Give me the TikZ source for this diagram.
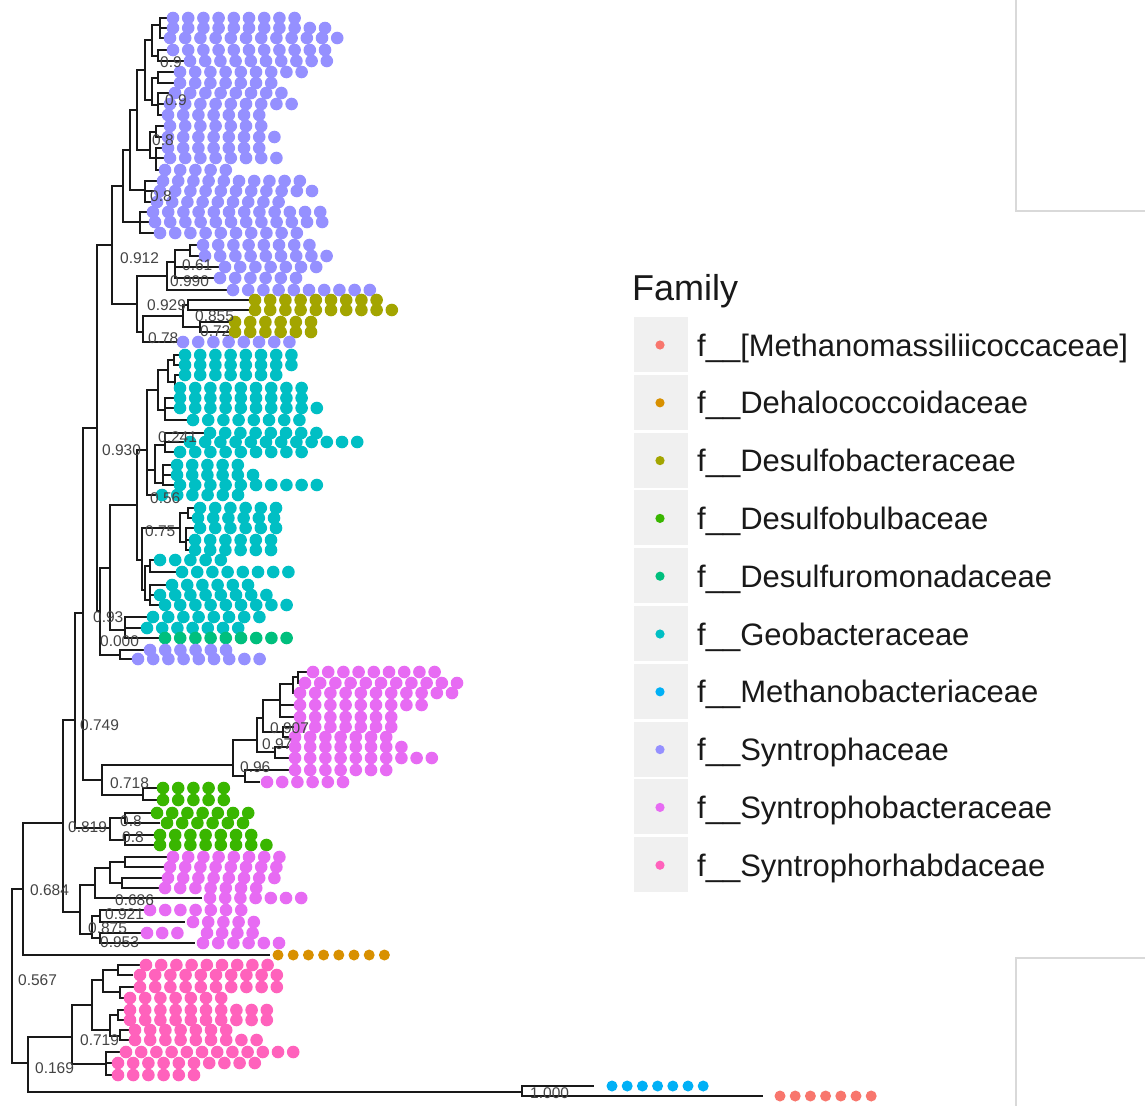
\documentclass[tikz,border=0pt]{standalone}
\usepackage{fontspec}
\setmainfont{Liberation Sans}
% family colours (default hue palette)
\definecolor{cMms}{HTML}{F8766D}
\definecolor{cDeh}{HTML}{D89000}
\definecolor{cDsb}{HTML}{A3A500}
\definecolor{cDbu}{HTML}{39B600}
\definecolor{cDfm}{HTML}{00BF7D}
\definecolor{cGeo}{HTML}{00BFC4}
\definecolor{cMba}{HTML}{00B0F6}
\definecolor{cSyn}{HTML}{9590FF}
\definecolor{cSpb}{HTML}{E76BF3}
\definecolor{cSph}{HTML}{FF62BC}
\definecolor{keybg}{HTML}{F0F0F0}
\definecolor{labgray}{HTML}{444444}
\definecolor{panelline}{HTML}{D9D9D9}
\begin{document}
\begin{tikzpicture}[x=1pt,y=-1pt,
  branch/.style={line width=1.4pt,draw=black!90},
  support/.style={anchor=west,inner sep=0pt,text=labgray,font=\fontsize{15.5}{17}\selectfont},
  legtext/.style={anchor=base west,inner sep=0pt,text=black!90,font=\fontsize{31}{34}\selectfont}]
\useasboundingbox[fill=white] (0,0) rectangle (1145,1106);

% leftover panel borders
\draw[panelline,line width=1.3pt] (1016,0) -- (1016,211) -- (1145,211);
\draw[panelline,line width=1.3pt] (1145,958) -- (1016,958) -- (1016,1106);

% ---------------- tree: parent x / parent y / child x / child y ----------------
\foreach \a/\b/\c/\d in {
 12/977/23/889, 12/977/28/1063, 28/1063/72/1037, 28/1063/522/1092,
 522/1092/594/1086, 522/1092/763/1096, 23/889/270/955, 23/889/63/823,
 72/1037/92/1005, 72/1037/106/1064, 92/1005/103/980, 92/1005/110/1030,
 103/980/118/970, 118/970/140/965, 118/970/133/975, 103/980/120/992,
 120/992/134/987, 120/992/124/998, 110/1030/118/1015, 118/1015/124/1010,
 118/1015/124/1020, 110/1030/120/1036, 120/1036/129/1030, 120/1036/129/1040,
 106/1064/120/1052, 106/1064/112/1063, 106/1064/112/1075,
 63/823/75/720, 63/823/80/912, 80/912/95/885, 80/912/92/934,
 95/885/110/868, 95/885/202/898, 110/868/125/862, 110/868/122/883,
 125/862/167/857, 125/862/164/867, 122/883/162/878, 122/883/159/888,
 92/934/100/916, 92/934/100/938, 100/916/144/910, 100/916/185/922,
 100/938/141/933, 100/938/195/943,
 75/720/83/613, 75/720/110/828, 83/613/97/428, 83/613/102/780,
 102/780/233/765, 102/780/143/795, 143/795/157/788, 143/795/157/800,
 110/828/125/818, 110/828/125/840, 125/818/151/813, 125/818/160/823,
 125/840/154/835, 125/840/154/845,
 233/765/257/740, 233/765/245/776, 245/776/290/770, 245/776/260/782,
 257/740/263/718, 257/740/275/752, 275/752/290/747, 275/752/290/758,
 263/718/280/700, 263/718/283/732, 283/732/295/727, 283/732/290/737,
 280/700/293/684, 280/700/295/705, 280/700/295/717, 293/684/298/677,
 298/677/307/672, 298/677/300/683, 293/684/295/693,
 97/428/112/245, 97/428/100/611, 112/245/123/186, 112/245/137/304,
 123/186/130/150, 123/186/140/222, 140/222/148/212, 140/222/149/222,
 140/222/154/233, 130/150/137/110, 130/150/145/190, 145/190/157/181,
 145/190/154/191, 145/190/151/202, 137/110/145/70, 137/110/150/150,
 150/150/156/132, 150/150/156/158, 156/132/164/126, 156/132/162/137,
 156/158/162/148, 156/158/164/158, 156/158/159/170, 145/70/152/40,
 145/70/152/100, 152/100/158/78, 152/100/158/105, 158/78/174/72,
 158/78/174/83, 158/105/169/93, 158/105/164/104, 158/105/162/115,
 152/40/160/25, 152/40/158/56, 158/56/167/50, 158/56/184/61,
 160/25/167/18, 160/25/167/28, 160/25/164/38,
 137/304/167/276, 137/304/143/332, 167/276/175/262, 167/276/227/290,
 175/262/190/250, 190/250/197/245, 190/250/199/256, 175/262/219/267,
 175/262/214/278, 143/332/183/316, 143/332/177/342, 183/316/188/305,
 183/316/200/327, 188/305/249/300, 188/305/249/310, 200/327/229/322,
 200/327/229/332,
 100/611/110/568, 100/611/120/655, 120/655/144/650, 120/655/132/659,
 110/568/137/505, 110/568/125/630, 125/630/147/617, 125/630/141/628,
 125/630/159/638, 137/505/147/450, 137/505/142/560, 147/450/158/390,
 147/450/155/470, 147/450/156/495, 158/390/168/370, 158/390/165/410,
 168/370/174/360, 168/370/175/382, 174/360/179/355, 174/360/179/365,
 175/382/179/375, 175/382/176/388, 165/410/174/398, 165/410/174/408,
 165/410/187/420, 155/470/165/445, 155/470/163/483, 165/445/204/433,
 165/445/184/442, 165/445/174/452, 163/483/171/465, 163/483/171/475,
 163/483/174/485, 142/560/180/528, 142/560/145/590, 180/528/188/513,
 180/528/186/542, 188/513/194/508, 188/513/192/518, 186/542/194/528,
 186/542/189/540, 186/542/189/550, 145/590/150/566, 145/590/150/600,
 150/566/154/560, 150/566/176/572, 150/600/166/585, 150/600/154/595,
 150/600/159/605}
 \draw[branch] (\a,\b) |- (\c,\d);

% ---------------- dot rows: y / first x / last x / colour ----------------
\foreach \y/\xs/\xe/\c in {
 18/173/298/cSyn, 28/173/320/cSyn, 38/170/335/cSyn, 50/173/325/cSyn,
 61/190/330/cSyn, 72/180/305/cSyn, 83/180/267/cSyn, 93/175/283/cSyn,
 104/170/290/cSyn, 115/168/265/cSyn, 126/170/265/cSyn, 137/168/278/cSyn,
 148/168/260/cSyn, 158/170/273/cSyn, 170/165/228/cSyn, 181/163/302/cSyn,
 191/160/318/cSyn, 202/157/280/cSyn, 212/153/320/cSyn, 222/155/320/cSyn,
 233/160/293/cSyn, 245/203/310/cSyn, 256/205/320/cSyn, 267/225/320/cSyn,
 278/220/290/cSyn, 290/233/368/cSyn,
 300/255/380/cDsb, 310/255/393/cDsb, 322/235/310/cDsb, 332/235/310/cDsb,
 342/183/290/cSyn,
 355/185/295/cGeo, 365/185/295/cGeo, 375/185/283/cGeo, 388/180/303/cGeo,
 398/180/303/cGeo, 408/180/313/cGeo, 420/193/300/cGeo, 433/210/323/cGeo,
 442/190/355/cGeo, 452/180/295/cGeo, 465/177/243/cGeo, 475/177/258/cGeo,
 485/180/318/cGeo, 495/162/238/cGeo, 508/200/280/cGeo, 518/198/280/cGeo,
 528/200/280/cGeo, 540/195/273/cGeo, 550/195/273/cGeo, 560/160/227/cGeo,
 572/182/292/cGeo, 585/172/253/cGeo, 595/160/267/cGeo, 605/165/282/cGeo,
 617/153/262/cGeo, 628/147/243/cGeo,
 638/165/288/cDfm,
 650/150/232/cSyn, 659/138/260/cSyn,
 672/313/433/cSpb, 683/305/452/cSpb, 693/300/452/cSpb, 705/300/415/cSpb,
 717/300/398/cSpb, 727/300/398/cSpb, 737/295/380/cSpb, 747/295/397/cSpb,
 758/295/435/cSpb, 770/295/390/cSpb, 782/267/347/cSpb,
 788/163/230/cDbu, 800/163/230/cDbu, 813/157/252/cDbu, 823/167/237/cDbu,
 835/160/253/cDbu, 845/160/267/cDbu,
 857/173/283/cSpb, 867/170/270/cSpb, 878/168/270/cSpb, 888/165/257/cSpb,
 898/210/295/cSpb, 910/150/240/cSpb, 922/193/255/cSpb, 933/147/183/cSpb,
 933/207/260/cSpb, 943/203/277/cSpb,
 965/146/264/cSph, 975/140/281/cSph, 987/140/281/cSph, 998/130/227/cSph,
 1010/130/264/cSph, 1020/130/270/cSph, 1030/135/232/cSph, 1040/135/264/cSph,
 1052/126/287/cSph, 1063/118/250/cSph, 1075/118/195/cSph}
{
 \pgfmathtruncatemacro\n{round((\xe-\xs)/15.2)}
 \foreach \k in {0,...,\n}
  \fill[\c] (\xs+\k*15.2,\y) circle[radius=6.3pt];
}
% single-tip families
\foreach \y/\xs/\xe/\c in {955/278/384/cDeh, 1086/612/705/cMba, 1096/780/872/cMms}
{
 \pgfmathtruncatemacro\n{round((\xe-\xs)/15.2)}
 \foreach \k in {0,...,\n}
  \fill[\c] (\xs+\k*15.2,\y) circle[radius=5.5pt];
}

% ---------------- support values ----------------
\foreach \x/\y/\t in {
 120/258/0.912, 147/305/0.929, 195/316/0.855, 200/331/0.72, 148/338/0.78,
 170/281/0.990, 182/265/0.61, 102/450/0.930, 158/437/0.241, 150/498/0.56,
 145/531/0.75, 93/617/0.93, 100/641/0.000, 80/725/0.749, 110/783/0.718,
 68/827/0.819, 30/890/0.684, 18/980/0.567, 80/1040/0.719, 35/1068/0.169,
 530/1093/1.000, 88/928/0.875, 100/942/0.953, 105/914/0.921, 115/900/0.686,
 270/728/0.907, 262/744/0.97, 240/767/0.96, 120/821/0.8, 122/837/0.8,
 150/196/0.8, 160/62/0.9, 165/100/0.9, 152/140/0.8}
 \node[support] at (\x,\y) {\t};

% ---------------- legend ----------------
\node[anchor=base west,inner sep=0pt,text=black!90,font=\fontsize{36}{40}\selectfont] (legtitle) at (632,300) {Family};
\foreach \i/\c/\t in {
 0/cMms/{f\_\_[Methanomassiliicoccaceae]},
 1/cDeh/{f\_\_Dehalococcoidaceae},
 2/cDsb/{f\_\_Desulfobacteraceae},
 3/cDbu/{f\_\_Desulfobulbaceae},
 4/cDfm/{f\_\_Desulfuromonadaceae},
 5/cGeo/{f\_\_Geobacteraceae},
 6/cMba/{f\_\_Methanobacteriaceae},
 7/cSyn/{f\_\_Syntrophaceae},
 8/cSpb/{f\_\_Syntrophobacteraceae},
 9/cSph/{f\_\_Syntrophorhabdaceae}}
{
 \fill[keybg] (634,317+57.8*\i) rectangle (688,372+57.8*\i);
 \fill[\c] (660,345+57.8*\i) circle[radius=4.6pt];
 \node[legtext] (leg\i) at (697,356+57.8*\i) {\t};
}
\end{tikzpicture}
\end{document}
